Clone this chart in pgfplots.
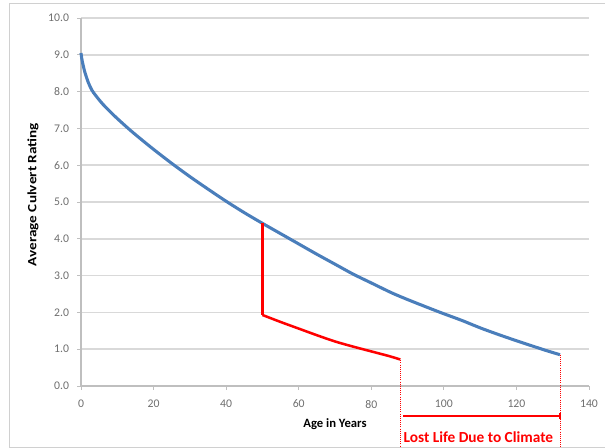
\documentclass[border=0pt]{standalone}
\usepackage{fontspec}
\setmainfont{Carlito}
\usepackage{pgfplots}
\pgfplotsset{compat=1.18}
\definecolor{serieblue}{HTML}{4A7EBB}
\definecolor{gridgray}{HTML}{D9D9D9}
\definecolor{axisgray}{HTML}{BFBFBF}
\definecolor{ticktext}{HTML}{6E6E6E}
\definecolor{framegray}{HTML}{D0D0D0}
\begin{document}
\begin{tikzpicture}
\path[use as bounding box] (0,0) rectangle (453.75pt,336pt);
\draw[framegray, line width=0.9pt] (453.75pt,333.6pt) -- (6.9pt,333.6pt) -- (6.9pt,0.6pt) -- (453.75pt,0.6pt);
\begin{axis}[
  at={(60.75pt,46.5pt)}, anchor=south west,
  scale only axis, width=381pt, height=276pt,
  xmin=0, xmax=140, ymin=0, ymax=10,
  axis x line*=bottom, axis y line*=left,
  axis line style={axisgray, line width=0.8pt},
  xtick={0,20,...,140}, ytick={0,1,...,10},
  tick align=outside, major tick length=3pt,
  tick style={axisgray, line width=0.7pt},
  ymajorgrids, grid style={gridgray, line width=1.1pt},
  /pgf/number format/assume math mode=true,
  yticklabel style={/pgf/number format/fixed, /pgf/number format/precision=1, /pgf/number format/fixed zerofill, font=\fontsize{8.8}{10}\selectfont, text=ticktext, xshift=-2.5pt},
  xticklabel style={font=\fontsize{8.8}{10}\selectfont, text=ticktext, yshift=-4pt},
  xlabel={\textbf{Age in Years}},
  ylabel={\scalebox{1.2}[1]{\textbf{Average Culvert Rating}}},
  xlabel style={at={(axis description cs:0.5,-0.103)}, anchor=center, font=\fontsize{9.5}{11}\selectfont},
  ylabel style={at={(axis description cs:-0.0945,0.52)}, anchor=center, font=\fontsize{9.5}{11}\selectfont},
  clip=false,
]
\addplot[serieblue, line width=2.3pt, smooth, tension=0.5] coordinates {
 (0,9.05) (0.3,8.85) (1,8.55) (2,8.25) (3,8.04) (4,7.9) (6,7.66) (9,7.36)
 (13,7.0) (16,6.75) (20,6.43) (25,6.05) (30,5.69) (35,5.35) (40,5.02)
 (45,4.71) (50,4.42) (55,4.14) (60,3.86) (65,3.58) (70,3.31) (75,3.04)
 (80,2.80) (85,2.56) (88,2.43) (92,2.27) (99,2.0) (105,1.78) (110,1.58)
 (115,1.40) (120,1.23) (124.6,1.08) (128,0.97) (132,0.85)
};
\addplot[red, line width=1.9pt, line join=miter] coordinates {
 (50,4.42) (50,1.93)
};
\addplot[red, line width=1.9pt, smooth, tension=0.5] coordinates {
 (50,1.93) (55,1.74) (60,1.56) (65,1.38) (70,1.21) (75,1.07)
 (80,0.94) (85,0.81) (88,0.72)
};
\draw[red, line width=0.6pt, densely dotted] (axis cs:88,0.7) -- (axis cs:88,-1.7);
\draw[red, line width=0.6pt, densely dotted] (axis cs:132,0.85) -- (axis cs:132,-1.7);
\draw[red, line width=1.2pt] (axis cs:88.8,-0.815) -- (axis cs:132,-0.815);
\draw[red, line width=0.8pt] (axis cs:132,-0.74) -- (axis cs:132,-0.89);
\node[red, font=\fontsize{11.5}{13}\selectfont\bfseries, anchor=center] at (axis cs:109.5,-1.39) {Lost Life Due to Climate};
\end{axis}
\end{tikzpicture}
\end{document}
